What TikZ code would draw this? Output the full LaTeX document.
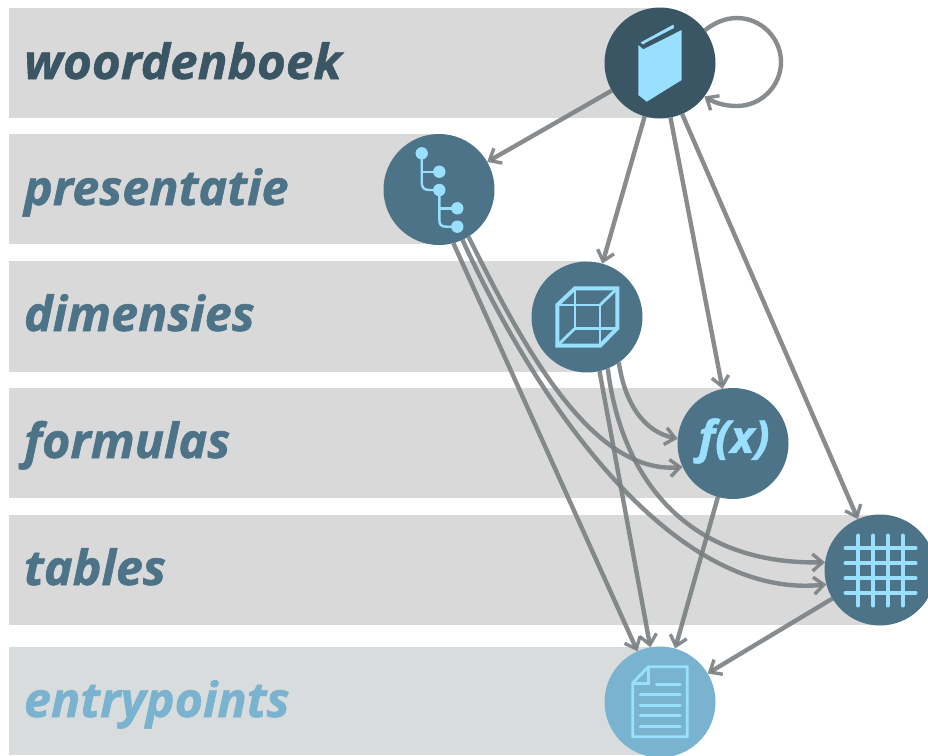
\documentclass[tikz,border=0pt]{standalone}
\usepackage{fontspec}
\setmainfont{Open Sans}
\newfontfamily\heavyit[FakeBold=1.1]{Open Sans Bold Italic}
\newfontfamily\heavywide[FakeBold=1.1,FakeStretch=1.02]{Open Sans Bold Italic}
\usetikzlibrary{arrows.meta}
\definecolor{bandc}{HTML}{D9D9D9}
\definecolor{bandl}{HTML}{D9DCDC}
\definecolor{darkc}{HTML}{3A5564}
\definecolor{tealc}{HTML}{4C7388}
\definecolor{softc}{HTML}{79B3CF}
\definecolor{iconc}{HTML}{99E0FF}
\definecolor{linkc}{HTML}{787D80}
\tikzset{
  band/.style={fill=bandc,draw=none},
  disc/.style={circle,minimum size=111pt,inner sep=0pt,outer sep=0pt,draw=none},
  lbl/.style={anchor=base west,inner sep=0pt,outer sep=0pt,font=\fontsize{48.5}{49}\heavyit},
  link/.style={draw=linkc,draw opacity=0.88,line width=4.4pt,-{Straight Barb[length=10pt,width=17pt,line width=3.4pt]}},
  ico/.style={draw=iconc,line width=2.4pt,line cap=round,line join=round},
  icof/.style={fill=iconc,draw=none},
}
\begin{document}
\begin{tikzpicture}[x=1pt,y=-1pt]
\clip (0,0) rectangle (928,755);
\fill[white] (0,0) rectangle (928,755);
% bands
\fill[band] (9,8) rectangle (660,118);
\fill[band] (9,134) rectangle (439,244);
\fill[band] (9,261) rectangle (587,372);
\fill[band] (9,388) rectangle (733,498);
\fill[band] (9,515) rectangle (880,625);
\fill[band,fill=bandl] (9,647) rectangle (660,755);
% labels
\node[lbl,text=darkc,font=\fontsize{48.5}{49}\heavywide] (l1) at (24,79) {woordenboek};
\node[lbl,text=tealc] (l2) at (24,205) {presentatie};
\node[lbl,text=tealc] (l3) at (24,331) {dimensies};
\node[lbl,text=tealc] (l4) at (24,458) {formulas};
\node[lbl,text=tealc] (l5) at (24,585) {tables};
\node[lbl,text=softc] (l6) at (24,717) {entrypoints};
% discs
\node[disc,fill=darkc] (book) at (660,63) {};
\node[disc,fill=tealc] (tree) at (439,189.5) {};
\node[disc,fill=tealc] (cube) at (587,317) {};
\node[disc,fill=tealc] (fx) at (733,443.5) {};
\node[disc,fill=tealc] (grid) at (880,570) {};
\node[disc,fill=softc] (doc) at (660,702) {};
% connectors
\draw[link] (book) -- (tree);
\draw[link] (book) -- (cube);
\draw[link] (book) -- (fx);
\draw[link] (book) -- (grid);
\draw[link] (book.36) .. controls (714,23) and (725,18) .. (737,18) .. controls (761,18) and (781,38) .. (781,62) .. controls (781,86) and (761,106) .. (737,106) .. controls (725,106) and (715,103) .. (book.-37);
\draw[link] (tree.-75) -- (doc.114);
\draw[link] (tree.-65) .. controls (545,420) and (680,600) .. (grid.-165);
\draw[link] (tree.-58) .. controls (520,340) and (590,475) .. (fx.-155);
\draw[link] (cube.-77) -- (doc.100);
\draw[link] (cube.-68) .. controls (620,470) and (680,565) .. (grid.172);
\draw[link] (cube.-55) .. controls (625,405) and (645,432) .. (fx.175);
\draw[link] (fx) -- (doc);
\draw[link] (grid) -- (doc);
% book icon
\fill[icof] (638.3,45) -- (643.3,49.3) -- (681.7,30) -- (681.7,80) -- (646.7,101.7) -- (638.3,95) -- cycle;
\fill[icof] (640.5,42.5) -- (673.5,24.5) -- (674,28) -- (646,42.5) -- (643,44.5) -- cycle;
% tree icon
\draw[ico] (421.7,153.3) -- (421.7,182) .. controls (421.7,188) and (424,190) .. (430,190) -- (439.3,190);
\draw[ico] (421.7,171.7) -- (439.3,171.7);
\draw[ico] (439.3,190) -- (439.3,219) .. controls (439.3,225) and (441,226.7) .. (447,226.7) -- (457.3,226.7);
\draw[ico] (439.3,208.3) -- (457.3,208.3);
\foreach \px/\py/\nm in {421.7/153.3/ta,439.3/171.7/tb,439.3/190/tc,457.3/208.3/td,457.3/226.7/te}
  \fill[icof] (\px,\py) circle (6.2pt);
% cube icon
\draw[ico,line width=4pt,line cap=butt,line join=miter] (557.3,305) -- (575,288.3) -- (617.3,288.3) -- (617.3,328.3) -- (600,345.7) -- (557.3,345.7) -- cycle;
\draw[ico,line width=2.8pt,line cap=butt] (557.3,305) -- (600,305) -- (600,345.7);
\draw[ico,line width=2.8pt,line cap=butt] (600,305) -- (617.3,288.3);
\draw[ico,line width=2.8pt,line cap=butt] (575,288.3) -- (575,328.3) -- (617.3,328.3);
\draw[ico,line width=2.8pt,line cap=butt] (557.3,345.7) -- (575,328.3);
% f(x)
\node[inner sep=0pt,text=iconc,font=\fontsize{45}{45}\heavyit] (fxt) at (734,441) {f(x)};
% grid icon
\foreach \px in {858.3,873.3,887.7,902.7} \draw[ico,line width=4pt] (\px,535.5) -- (\px,605.5);
\foreach \py in {548.3,563.3,578.3,592.7} \draw[ico,line width=4pt] (845.5,\py) -- (915.5,\py);
% doc icon
\draw[ico,line width=2.8pt,line cap=butt,line join=miter] (632.7,683) -- (648.3,666.7) -- (687.3,666.7) -- (687.3,736.7) -- (632.7,736.7) -- cycle;
\draw[ico,line width=2.8pt,line cap=butt,line join=miter] (648.3,666.7) -- (648.3,683.3) -- (632.7,683.3);
\draw[ico,line width=3pt] (656.7,684) -- (680,684);
\foreach \py in {694.3,705,715.7,726} \draw[ico,line width=3pt] (640,\py) -- (680,\py);
\end{tikzpicture}
\end{document}
